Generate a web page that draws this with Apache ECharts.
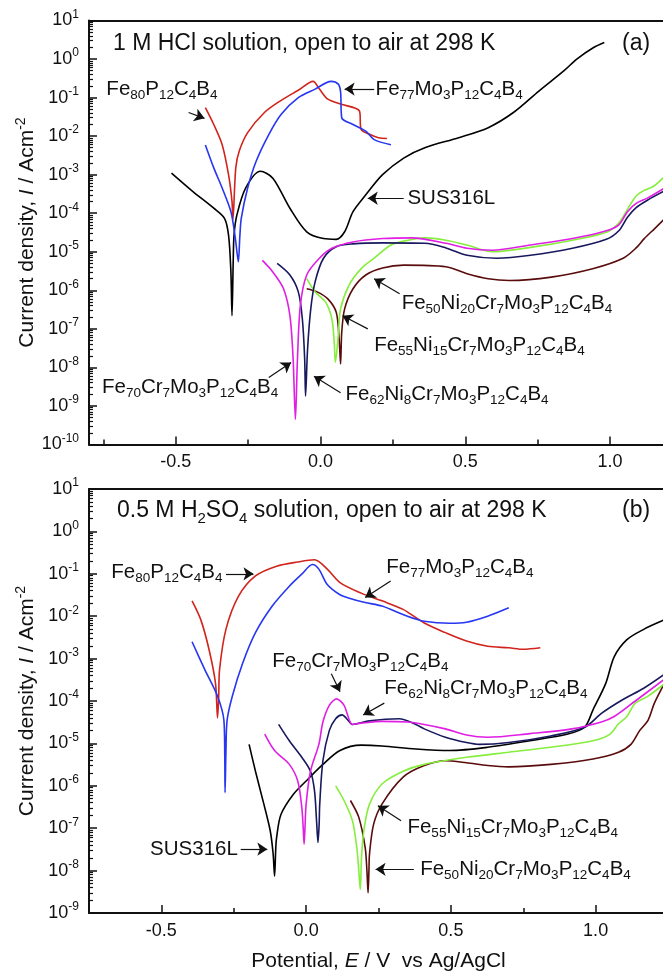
<!DOCTYPE html>
<html>
<head>
<meta charset="utf-8">
<script src="https://cdn.jsdelivr.net/npm/echarts@6/dist/echarts.min.js"></script>
<style>html,body{margin:0;padding:0;background:#fff}#c{width:663px;height:977px}</style>
</head>
<body>
<div id="c"></div>
<script>
// ---------------- Panel (a): 1 M HCl ----------------
const aTickE  = [-0.5, 0.0, 0.5, 1.0];
const aMinorE = [-0.75, -0.25, 0.25, 0.75];

const aFe80E = [-0.398,-0.369,-0.340,-0.318,-0.306,-0.303,-0.293,-0.281,-0.252,-0.194,-0.136,-0.077,-0.026,-0.004,0.025,0.069,0.134,0.140,0.171,0.200,0.229];
const aFe80I = [0.055,0.020,0.0060,0.0010,2.0e-4,6.8e-5,1.5e-3,4.1e-3,0.0123,0.041,0.085,0.155,0.263,0.166,0.091,0.068,0.045,0.0148,0.011,0.0091,0.0087];

const aFe77E = [-0.398,-0.369,-0.340,-0.310,-0.296,-0.289,-0.284,-0.279,-0.274,-0.252,-0.223,-0.179,-0.136,-0.077,-0.019,0.036,0.061,0.069,0.073,0.112,0.156,0.185,0.243];
const aFe77I = [5.9e-3,1.5e-3,4.5e-4,1.1e-4,2.7e-5,1.0e-5,5.5e-6,2.5e-5,7.4e-5,4.5e-4,2.2e-3,0.011,0.037,0.10,0.166,0.263,0.224,0.141,0.030,0.020,0.0135,8.1e-3,6.0e-3];

const aSUSE = [-0.515,-0.442,-0.369,-0.332,-0.318,-0.310,-0.306,-0.302,-0.299,-0.289,-0.259,-0.208,-0.165,-0.106,-0.048,0.010,0.054,0.083,0.112,0.156,0.214,0.287,0.360,0.477,0.579,0.666,0.754,0.841,0.885,0.943,0.980];
const aSUSI = [1.1e-3,3.7e-4,1.35e-4,7.4e-5,2.7e-5,3.2e-6,2.2e-7,5.0e-6,2.7e-5,9.1e-5,4.5e-4,1.23e-3,8.1e-4,1.35e-4,3.3e-5,2.2e-5,2.1e-5,3.3e-5,1.1e-4,3.0e-4,1.0e-3,2.7e-3,5.0e-3,9.1e-3,0.0166,0.041,0.148,0.50,1.0,2.0,2.7];

const aFe70E = [-0.201,-0.165,-0.128,-0.106,-0.095,-0.087,-0.080,-0.070,-0.048,-0.004,0.039,0.112,0.214,0.316,0.433,0.506,0.593,0.725,0.870,0.987,1.030,1.060,1.090,1.130,1.188];
const aFe70I = [6.0e-6,3.0e-6,1.1e-6,2.2e-7,1.7e-8,4.5e-10,1.6e-8,4.0e-7,2.5e-6,6.8e-6,1.23e-5,1.8e-5,2.2e-5,2.3e-5,1.66e-5,1.23e-5,1.1e-5,1.5e-5,2.2e-5,3.5e-5,5.0e-5,1.1e-4,1.8e-4,2.5e-4,4.5e-4];

const aFe62E = [-0.150,-0.106,-0.077,-0.063,-0.055,-0.052,-0.045,-0.034,-0.019,0.010,0.054,0.112,0.214,0.360,0.433,0.506,0.608,0.725,0.870,0.987,1.030,1.060,1.090,1.130,1.188];
const aFe62I = [5.0e-6,2.5e-6,9.1e-7,1.8e-7,1.66e-8,1.8e-9,3.0e-8,3.3e-7,1.66e-6,6.8e-6,1.35e-5,1.6e-5,1.7e-5,1.66e-5,1.26e-5,8.1e-6,6.8e-6,8.1e-6,1.23e-5,2.1e-5,3.5e-5,7.9e-5,1.4e-4,2.2e-4,3.8e-4];

const aFe55E = [-0.048,-0.019,0.017,0.039,0.047,0.051,0.061,0.069,0.098,0.141,0.185,0.243,0.302,0.360,0.433,0.506,0.593,0.725,0.870,0.987,1.030,1.060,1.090,1.120,1.150,1.188];
const aFe55I = [2.0e-6,9.1e-7,5.0e-7,1.8e-7,4.5e-8,1.35e-8,6.8e-8,3.3e-7,1.35e-6,3.7e-6,6.8e-6,1.5e-5,2.0e-5,2.3e-5,2.0e-5,1.5e-5,1.0e-5,1.3e-5,2.0e-5,3.2e-5,5.6e-5,1.26e-4,2.8e-4,4.0e-4,5.0e-4,8.9e-4];

const aFe50E = [-0.048,-0.012,0.025,0.054,0.064,0.069,0.073,0.083,0.112,0.156,0.214,0.287,0.433,0.506,0.579,0.652,0.797,0.943,1.045,1.090,1.118,1.154,1.188];
const aFe50I = [1.1e-6,9.1e-7,6.0e-7,2.7e-7,5.5e-8,1.23e-8,8.1e-8,3.3e-7,1.1e-6,2.5e-6,3.8e-6,4.5e-6,4.1e-6,2.7e-6,2.0e-6,1.8e-6,2.2e-6,3.7e-6,6.8e-6,1.26e-5,2.2e-5,4.0e-5,7.1e-5];

const aNoteText = ['{m|Fe}{u|80}{m|P}{u|12}{m|C}{u|4}{m|B}{u|4}','{m|Fe}{u|77}{m|Mo}{u|3}{m|P}{u|12}{m|C}{u|4}{m|B}{u|4}','{m|SUS316L}',
  '{m|Fe}{u|50}{m|Ni}{u|20}{m|Cr}{u|7}{m|Mo}{u|3}{m|P}{u|12}{m|C}{u|4}{m|B}{u|4}','{m|Fe}{u|55}{m|Ni}{u|15}{m|Cr}{u|7}{m|Mo}{u|3}{m|P}{u|12}{m|C}{u|4}{m|B}{u|4}',
  '{m|Fe}{u|70}{m|Cr}{u|7}{m|Mo}{u|3}{m|P}{u|12}{m|C}{u|4}{m|B}{u|4}','{m|Fe}{u|62}{m|Ni}{u|8}{m|Cr}{u|7}{m|Mo}{u|3}{m|P}{u|12}{m|C}{u|4}{m|B}{u|4}'];
const aNoteE = [-0.740, 0.190, 0.300, 0.280, 0.185, -0.755, 0.086];
const aNoteI = [0.166, 0.166, 2.45e-4, 4.5e-7, 3.7e-8, 3.0e-9, 2.0e-9];
const aArrFromE = [-0.456, 0.185, 0.287, 0.273, 0.163, -0.179, 0.069];
const aArrFromI = [0.041, 0.166, 2.45e-4, 8.1e-7, 1.0e-7, 5.5e-9, 2.2e-9];
const aArrToE   = [-0.401, 0.083, 0.163, 0.185, 0.076, -0.102, -0.023];
const aArrToI   = [0.029, 0.166, 2.45e-4, 2.0e-6, 2.2e-7, 1.35e-8, 5.9e-9];

// ---------------- Panel (b): 0.5 M H2SO4 ----------------
const bTickE  = [-0.5, 0.0, 0.5, 1.0];
const bMinorE = [-0.25, 0.25, 0.75];

const bFe80E = [-0.394,-0.364,-0.335,-0.313,-0.306,-0.302,-0.299,-0.277,-0.233,-0.175,-0.102,-0.029,0.029,0.073,0.117,0.190,0.262,0.335,0.408,0.481,0.554,0.627,0.700,0.750,0.809];
const bFe80I = [0.023,8.3e-3,1.6e-3,2.6e-4,4.0e-5,1.26e-4,5.5e-4,4.9e-3,0.030,0.089,0.151,0.19,0.214,0.129,0.062,0.035,0.023,0.0145,6.9e-3,4.1e-3,2.6e-3,1.95e-3,1.8e-3,1.66e-3,1.8e-3];

const bFe77E = [-0.394,-0.350,-0.306,-0.284,-0.281,-0.280,-0.277,-0.273,-0.255,-0.219,-0.175,-0.117,-0.058,-0.015,0.022,0.044,0.073,0.117,0.146,0.204,0.262,0.350,0.408,0.496,0.554,0.627,0.700];
const bFe77I = [2.5e-3,5.5e-4,1.3e-4,3.5e-5,5.0e-6,6.9e-7,6.3e-6,3.5e-5,1.3e-4,7.9e-4,4.1e-3,0.0174,0.051,0.098,0.166,0.129,0.056,0.032,0.027,0.021,0.0174,0.010,7.6e-3,6.8e-3,7.2e-3,0.010,0.0158];

const bSUSE = [-0.197,-0.175,-0.146,-0.124,-0.114,-0.109,-0.105,-0.102,-0.087,-0.044,0.000,0.058,0.117,0.190,0.262,0.379,0.496,0.627,0.773,0.904,0.962,0.991,1.035,1.064,1.108,1.166,1.236];
const bSUSI = [9.5e-6,2.2e-6,3.7e-7,8.7e-8,2.5e-8,7.4e-9,3.2e-8,6.0e-8,2.1e-7,6.3e-7,1.3e-6,3.2e-6,6.8e-6,9.1e-6,8.7e-6,7.4e-6,6.8e-6,8.1e-6,1.15e-5,1.66e-5,2.4e-5,6.2e-5,2.6e-4,1.1e-3,2.8e-3,4.9e-3,8.1e-3];

const bFe70E = [-0.143,-0.109,-0.058,-0.029,-0.015,-0.010,-0.007,-0.004,0.000,0.015,0.044,0.058,0.080,0.105,0.131,0.160,0.190,0.262,0.350,0.408,0.481,0.554,0.627,0.773,0.918,1.020,1.064,1.137,1.236];
const bFe70I = [1.66e-5,6.8e-6,3.2e-6,1.3e-6,3.1e-7,1.0e-7,4.2e-8,1.0e-7,3.7e-7,2.2e-6,9.5e-6,3.2e-5,7.9e-5,1.12e-4,7.9e-5,2.8e-5,3.0e-5,3.3e-5,3.2e-5,2.8e-5,2.2e-5,1.58e-5,1.4e-5,1.7e-5,2.2e-5,3.2e-5,4.3e-5,1.0e-4,3.2e-4];

const bFe62E = [-0.095,-0.058,-0.015,0.015,0.029,0.036,0.041,0.045,0.047,0.058,0.080,0.102,0.124,0.145,0.160,0.219,0.321,0.379,0.408,0.481,0.554,0.598,0.700,0.845,0.962,1.020,1.093,1.166,1.236];
const bFe62I = [2.8e-5,1.15e-5,4.7e-6,2.2e-6,7.6e-7,1.5e-7,4.6e-8,1.26e-7,3.7e-7,3.9e-6,2.0e-5,3.8e-5,4.7e-5,3.5e-5,2.8e-5,3.4e-5,3.8e-5,2.8e-5,2.2e-5,1.4e-5,1.05e-5,9.5e-6,1.05e-5,1.5e-5,2.4e-5,5.1e-5,1.07e-4,2.0e-4,4.2e-4];

const bFe55E = [0.102,0.131,0.160,0.175,0.182,0.187,0.192,0.201,0.219,0.262,0.335,0.408,0.554,0.700,0.845,0.991,1.050,1.079,1.108,1.137,1.181,1.236];
const bFe55I = [1.0e-6,4.5e-7,1.5e-7,3.5e-8,1.0e-8,3.6e-9,2.5e-8,1.05e-7,3.7e-7,1.1e-6,2.2e-6,3.2e-6,4.7e-6,6.2e-6,8.1e-6,1.15e-5,1.66e-5,2.9e-5,4.3e-5,8.9e-5,1.3e-4,2.5e-4];

const bFe50E = [0.153,0.182,0.204,0.210,0.214,0.217,0.219,0.233,0.262,0.335,0.408,0.481,0.554,0.627,0.700,0.845,0.991,1.079,1.122,1.152,1.181,1.203,1.236];
const bFe50I = [4.5e-7,1.8e-7,3.5e-8,1.0e-8,3.0e-9,1.0e-8,2.5e-8,1.23e-7,3.7e-7,1.6e-6,3.0e-6,3.9e-6,3.5e-6,3.0e-6,2.8e-6,3.2e-6,4.3e-6,6.2e-6,9.5e-6,2.0e-5,3.5e-5,8.9e-5,2.5e-4];

const bNoteText = ['{m|Fe}{u|80}{m|P}{u|12}{m|C}{u|4}{m|B}{u|4}','{m|Fe}{u|77}{m|Mo}{u|3}{m|P}{u|12}{m|C}{u|4}{m|B}{u|4}',
  '{m|Fe}{u|70}{m|Cr}{u|7}{m|Mo}{u|3}{m|P}{u|12}{m|C}{u|4}{m|B}{u|4}','{m|Fe}{u|62}{m|Ni}{u|8}{m|Cr}{u|7}{m|Mo}{u|3}{m|P}{u|12}{m|C}{u|4}{m|B}{u|4}',
  '{m|SUS316L}','{m|Fe}{u|55}{m|Ni}{u|15}{m|Cr}{u|7}{m|Mo}{u|3}{m|P}{u|12}{m|C}{u|4}{m|B}{u|4}','{m|Fe}{u|50}{m|Ni}{u|20}{m|Cr}{u|7}{m|Mo}{u|3}{m|P}{u|12}{m|C}{u|4}{m|B}{u|4}'];
const bNoteE = [-0.673, 0.277, -0.117, 0.270, -0.539, 0.350, 0.394];
const bNoteI = [0.107, 0.141, 8.7e-4, 2.0e-4, 3.2e-8, 1.07e-7, 1.07e-8];
const bArrFromE = [-0.277, 0.292, 0.087, 0.270, -0.226, 0.328, 0.372];
const bArrFromI = [0.10, 0.068, 4.4e-4, 8.9e-5, 3.2e-8, 1.5e-7, 1.07e-8];
const bArrToE   = [-0.182, 0.204, 0.117, 0.197, -0.134, 0.248, 0.240];
const bArrToI   = [0.10, 0.0275, 1.66e-4, 4.7e-5, 3.2e-8, 3.4e-7, 1.07e-8];

// ---------------- styling / building ----------------
const FONT = '"Liberation Sans", Arial, Helvetica, sans-serif';
const INK = '#111111';
const C = { red:'#d0241c', blue:'#2636f2', black:'#000000', magenta:'#e01ee4', navy:'#17185e', green:'#86ee3c', brown:'#5a0b0b' };

function toLog(E, I) { return E.map((e, k) => [e, Math.log10(I[k])]); }

function minorDecades(lo, hi) {
  const out = [];
  for (let n = lo; n < hi; n++) for (let k = 2; k <= 9; k++) out.push(n + Math.log10(k));
  return out;
}

function xMain(g, min, max, ticks, name) {
  return {
    type:'value', gridIndex:g, position:'bottom', min, max,
    axisLine:{show:true, onZero:false, lineStyle:{color:INK, width:2}},
    axisTick:{show:true, inside:true, length:8, customValues:ticks, lineStyle:{color:INK, width:1.5}},
    axisLabel:{show:true, customValues:ticks, formatter:v => v.toFixed(1), fontSize:18, fontFamily:FONT, color:INK, margin:9},
    splitLine:{show:false},
    name: name || '', nameLocation:'middle', nameGap:38, nameMoveOverlap:false,
    nameTextStyle:{fontSize:21, fontFamily:FONT, color:INK, rich:{i:{fontSize:21, fontFamily:FONT, fontStyle:'italic', color:INK}}}
  };
}
function xMinor(g, min, max, ticks) {
  return {
    type:'value', gridIndex:g, position:'bottom', min, max,
    axisLine:{show:false, onZero:false},
    axisTick:{show:true, inside:true, length:5, customValues:ticks, lineStyle:{color:INK, width:1.5}},
    axisLabel:{show:false}, splitLine:{show:false}
  };
}
function xTop(g, min, max) {
  return {
    type:'value', gridIndex:g, position:'top', min, max,
    axisLine:{show:true, onZero:false, lineStyle:{color:INK, width:2}},
    axisTick:{show:false}, axisLabel:{show:false}, splitLine:{show:false}
  };
}
function yMain(g, min, max) {
  return {
    type:'value', gridIndex:g, position:'left', min, max, interval:1,
    axisLine:{show:true, onZero:false, lineStyle:{color:INK, width:2}},
    axisTick:{show:true, inside:true, length:8, lineStyle:{color:INK, width:1.5}},
    axisLabel:{show:true, margin:10, formatter:v => '{b|10}{s|' + v + '}',
      rich:{ b:{fontSize:18, fontFamily:FONT, color:INK, lineHeight:24},
             s:{fontSize:12, fontFamily:FONT, color:INK, lineHeight:12, verticalAlign:'top'} }},
    splitLine:{show:false},
    name:'Current density, {i|I} / Acm{s|-2}', nameLocation:'middle', nameGap:49, nameMoveOverlap:false,
    nameTextStyle:{fontSize:21, fontFamily:FONT, color:INK, lineHeight:26,
      rich:{ i:{fontSize:21, fontFamily:FONT, fontStyle:'italic', color:INK, lineHeight:26},
             s:{fontSize:14, fontFamily:FONT, color:INK, lineHeight:12, verticalAlign:'top'} }}
  };
}
function yMinor(g, min, max, ticks) {
  return {
    type:'value', gridIndex:g, position:'left', min, max,
    axisLine:{show:false, onZero:false},
    axisTick:{show:true, inside:true, length:4, customValues:ticks, lineStyle:{color:INK, width:1.2}},
    axisLabel:{show:false}, splitLine:{show:false}
  };
}

function curve(name, g, E, I, color) {
  return { type:'line', name, xAxisIndex:g*3, yAxisIndex:g*2, data:toLog(E, I),
    symbol:'none', showSymbol:false, smooth:0.3, clip:true, silent:true,
    lineStyle:{color, width:1.6}, itemStyle:{color}, z:3 };
}

const NOTE_RICH = {
  m:{fontSize:20.5, fontFamily:FONT, color:INK, lineHeight:26},
  u:{fontSize:13.5, fontFamily:FONT, color:INK, lineHeight:10, verticalAlign:'bottom'}
};

function notes(g, E, I, texts, fE, fI, tE, tI) {
  return {
    type:'scatter', xAxisIndex:g*3, yAxisIndex:g*2, symbolSize:0, silent:true, z:5,
    itemStyle:{color:INK, opacity:1},
    data:E.map((e, k) => ({ name:texts[k], value:[e, Math.log10(I[k])] })),
    label:{show:true, position:'right', distance:0, formatter:p => p.name, rich:NOTE_RICH, color:INK, opacity:1},
    markLine:{ silent:true, animation:false, symbol:['none','arrow'], symbolSize:10,
      label:{show:false}, lineStyle:{color:INK, width:1.2, type:'solid', opacity:1},
      itemStyle:{color:INK},
      emphasis:{disabled:true},
      data:fE.map((e, k) => [{coord:[e, Math.log10(fI[k])]}, {coord:[tE[k], Math.log10(tI[k])]}]) }
  };
}

const chart = echarts.init(document.getElementById('c'), null, {renderer:'canvas'});
const option = {
  animation:false,
  backgroundColor:'#ffffff',
  textStyle:{fontFamily:FONT},
  grid:[
    {left:89, top:20.5, width:579, height:424, outerBoundsMode:'none', containLabel:false},
    {left:89, top:489, width:579, height:424, outerBoundsMode:'none', containLabel:false}
  ],
  xAxis:[
    xMain(0, -0.8, 1.2, aTickE, ''), xMinor(0, -0.8, 1.2, aMinorE), xTop(0, -0.8, 1.2),
    xMain(1, -0.75, 1.25, bTickE, 'Potential, {i|E} / V  vs Ag/AgCl'), xMinor(1, -0.75, 1.25, bMinorE), xTop(1, -0.75, 1.25)
  ],
  yAxis:[
    yMain(0, -10, 1), yMinor(0, -10, 1, minorDecades(-10, 1)),
    yMain(1, -9, 1),  yMinor(1, -9, 1, minorDecades(-9, 1))
  ],
  series:[
    curve('a SUS316L', 0, aSUSE, aSUSI, C.black),
    curve('a Fe80', 0, aFe80E, aFe80I, C.red),
    curve('a Fe77', 0, aFe77E, aFe77I, C.blue),
    curve('a Fe50', 0, aFe50E, aFe50I, C.brown),
    curve('a Fe55', 0, aFe55E, aFe55I, C.green),
    curve('a Fe62', 0, aFe62E, aFe62I, C.navy),
    curve('a Fe70', 0, aFe70E, aFe70I, C.magenta),
    notes(0, aNoteE, aNoteI, aNoteText, aArrFromE, aArrFromI, aArrToE, aArrToI),
    curve('b SUS316L', 1, bSUSE, bSUSI, C.black),
    curve('b Fe80', 1, bFe80E, bFe80I, C.red),
    curve('b Fe77', 1, bFe77E, bFe77I, C.blue),
    curve('b Fe50', 1, bFe50E, bFe50I, C.brown),
    curve('b Fe55', 1, bFe55E, bFe55I, C.green),
    curve('b Fe62', 1, bFe62E, bFe62I, C.navy),
    curve('b Fe70', 1, bFe70E, bFe70I, C.magenta),
    notes(1, bNoteE, bNoteI, bNoteText, bArrFromE, bArrFromI, bArrToE, bArrToI)
  ],
  graphic:[
    {type:'text', x:113, y:44, silent:true, style:{text:'1 M HCl solution, open to air at 298 K', fontSize:23, fontFamily:FONT, fill:INK, verticalAlign:'middle', lineHeight:30}},
    {type:'text', x:622, y:44, silent:true, style:{text:'(a)', fontSize:23, fontFamily:FONT, fill:INK, verticalAlign:'middle', lineHeight:30}},
    {type:'text', x:117, y:511, silent:true, style:{text:'{t|0.5 M H}{u|2}{t|SO}{u|4}{t| solution, open to air at 298 K}', verticalAlign:'middle',
      rich:{t:{fontSize:23, fontFamily:FONT, fill:INK, lineHeight:30}, u:{fontSize:15, fontFamily:FONT, fill:INK, lineHeight:12, verticalAlign:'bottom'}}}},
    {type:'text', x:622, y:511, silent:true, style:{text:'(b)', fontSize:23, fontFamily:FONT, fill:INK, verticalAlign:'middle', lineHeight:30}}
  ]
};
chart.setOption(option);
</script>
</body>
</html>
